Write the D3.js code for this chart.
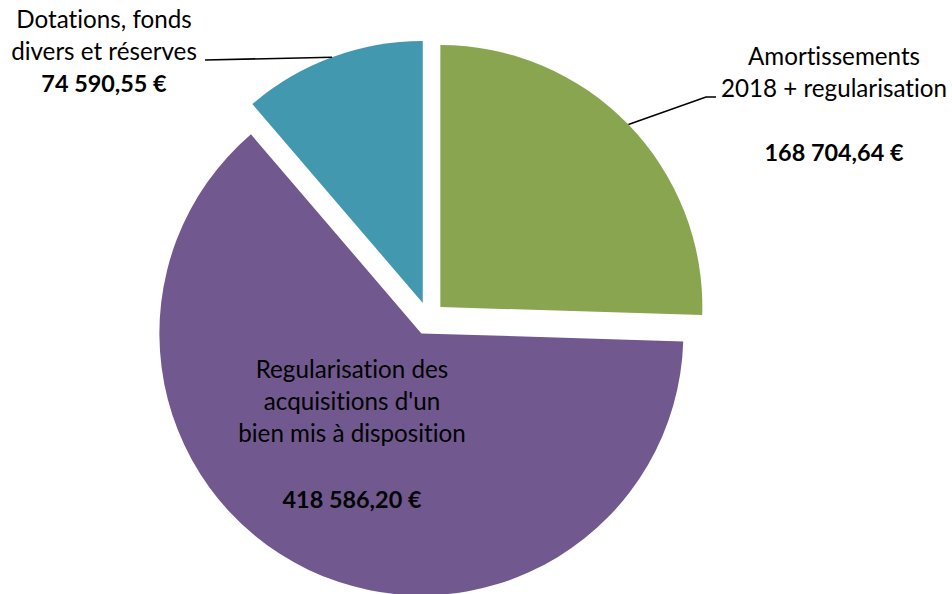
<!DOCTYPE html>
<html>
<head>
<meta charset="utf-8">
<script src="https://cdn.jsdelivr.net/npm/d3@7"></script>
<style>
    body { margin: 0; background: #fff; }
    svg text { font-family: Lato, "Open Sans", sans-serif; fill: #000; font-variant-ligatures: none; font-feature-settings: "liga" 0, "dlig" 0; }
</style>
</head>
<body>
<div id="chart"></div>
<script>
//Datos del gráfico
let categories = ['Amortissements 2018 + regularisation', "Regularisation des acquisitions d'un bien mis à disposition", 'Dotations, fonds divers et réserves'];
let values = [168704.64, 418586.20, 74590.55];
let labelLines = [
    ['Amortissements', '2018 + regularisation'],
    ['Regularisation des', "acquisitions d'un", 'bien mis à disposition'],
    ['Dotations, fonds', 'divers et réserves']
];
let colors = ['#8aa54f', '#71588f', '#4198af'];

//Formato francés
let fr = d3.formatLocale({decimal: ',', thousands: '\u00a0', grouping: [3], currency: ['', ' €']});
let fmt = function(d) { return fr.format(',.2f')(d).replace(/\u00a0/g, ' ') + ' €'; };

let width = 952, height = 594;
let cx = 428.5, cy = 318.5, radius = 262, explode = 16.5;

let svg = d3.select('#chart')
    .append('svg')
    .attr('width', width)
    .attr('height', height);

let pie = d3.pie().sort(null).value(d => d);
let arcs = pie(values);
let arc = d3.arc().innerRadius(0).outerRadius(radius);

function offset(d, dist) {
    let a = (d.startAngle + d.endAngle) / 2;
    return [Math.sin(a) * dist, -Math.cos(a) * dist];
}

//Porciones
let slices = svg.selectAll('g.slice')
    .data(arcs)
    .enter()
    .append('g')
    .attr('class', 'slice')
    .attr('transform', function(d) {
        let o = offset(d, explode);
        return 'translate(' + (cx + o[0]) + ',' + (cy + o[1]) + ')';
    });

slices.append('path')
    .attr('d', arc)
    .attr('fill', (d, i) => colors[i]);

//Etiquetas: posición de cada bloque (centro x, primera línea y, y del valor)
let labelPos = [
    {x: 834, y: 65, vy: 161, leader: [[706, 97], [716, 97]]},
    {x: 352, y: 378, vy: 508, leader: null},
    {x: 104, y: 28, vy: 92, leader: [[205, 60]]}
];
let lineH = 32;

arcs.forEach(function(d, i) {
    let p = labelPos[i];
    let g = svg.append('g').attr('class', 'label');

    labelLines[i].forEach(function(t, j) {
        g.append('text')
            .attr('x', p.x)
            .attr('y', p.y + j * lineH)
            .attr('text-anchor', 'middle')
            .style('font-size', '24.2px')
            .text(t);
    });

    g.append('text')
        .attr('x', p.x)
        .attr('y', p.vy)
        .attr('text-anchor', 'middle')
        .style('font-size', '23.4px')
        .style('font-weight', 'bold')
        .text(fmt(values[i]));

    if (p.leader) {
        let o = offset(d, explode);
        let e = offset(d, radius);
        let pts = [[cx + o[0] + e[0], cy + o[1] + e[1]]].concat(p.leader);
        svg.append('path')
            .attr('d', d3.line()(pts))
            .attr('fill', 'none')
            .attr('stroke', '#000')
            .attr('stroke-width', 1.6);
    }
});
</script>
</body>
</html>
